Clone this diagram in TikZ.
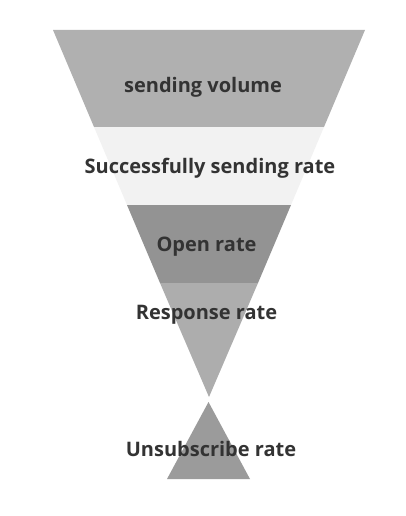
\documentclass[tikz,border=0pt]{standalone}
\usepackage{fontspec}
\setmainfont{Open Sans}
\definecolor{bandA}{HTML}{B0B0B0}
\definecolor{bandB}{HTML}{F2F2F2}
\definecolor{bandC}{HTML}{939393}
\definecolor{bandD}{HTML}{ADADAD}
\definecolor{bandE}{HTML}{9B9B9B}
\definecolor{txt}{HTML}{333333}
\tikzset{lbl/.style={text=txt, font=\fontsize{20}{24}\selectfont\bfseries, inner sep=0pt}}
\begin{document}
\begin{tikzpicture}[x=1pt,y=-1pt]
\useasboundingbox (0,0) rectangle (405,516);
% funnel bands
\fill[bandA] (53,30) -- (365,30) -- (324,127) -- (94,127) -- cycle;
\fill[bandB] (94,127) -- (324,127) -- (291,205) -- (127,205) -- cycle;
\fill[bandC] (127,205) -- (291,205) -- (258,283) -- (160,283) -- cycle;
\fill[bandD] (160,283) -- (258,283) -- (209,397) -- cycle;
\fill[bandE] (208.5,402) -- (250,479) -- (167,479) -- cycle;

\node[lbl] (vol) at (203,87) {sending volume};
\node[lbl] (succ) at (210,168) {Successfully sending rate};
\node[lbl] (open) at (206.5,247) {Open rate};
\node[lbl] (resp) at (206.5,315) {Response rate};
\node[lbl] (unsub) at (211,449) {Unsubscribe rate};
\end{tikzpicture}
\end{document}
